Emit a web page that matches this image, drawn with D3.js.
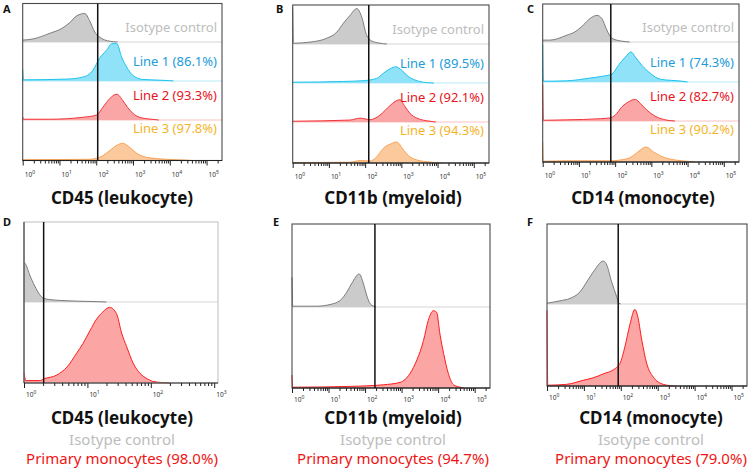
<!DOCTYPE html>
<html><head><meta charset="utf-8">
<script src="https://cdn.jsdelivr.net/npm/d3@7"></script>
<style>body{margin:0;background:#fff}</style>
</head><body><svg id="c" width="749" height="469"></svg>
<script>
// ---------------- DATA ----------------
const markers = ["CD45 (leukocyte)", "CD11b (myeloid)", "CD14 (monocyte)"];
const panelLetters = ["A", "B", "C", "D", "E", "F"];
const isoName = "Isotype control";
const lineNames = ["Line 1", "Line 2", "Line 3"];
const primaryName = "Primary monocytes";
const pctTop = [[86.1, 93.3, 97.8], [89.5, 92.1, 94.3], [74.3, 82.7, 90.2]];
const pctPrimary = [98.0, 94.7, 79.0];
const gateTop = [2.04, 2.1, 1.88];        // log10 gate position
const gateBottom = [0.31, 2.27, 1.93];
const axisMaxTop = 5.42, axisMaxD = 3.06, axisMaxEF = 5.42; // log10 upper limit
const tickPowersTop = [0, 1, 2, 3, 4, 5];
const tickPowersD = [0, 1, 2, 3];

// histograms: [log10 intensity, relative count]
const histA_iso = [[0,0.05],[0.28,0.08],[0.74,0.23],[1.07,0.36],[1.28,0.51],[1.47,0.69],[1.69,0.75],[1.82,0.56],[1.96,0.26],[2.09,0.13],[2.37,0.02],[2.58,0]];
const histA_l1 = [[0,0.3],[0.02,0.03],[1.2,0.05],[1.63,0.1],[1.91,0.28],[2.09,0.59],[2.28,0.8],[2.42,0.97],[2.56,0.97],[2.69,0.62],[2.83,0.36],[2.99,0.15],[3.26,0.04],[3.99,0.01],[4.1,0]];
const histA_l2 = [[0,0.08],[0.02,0.02],[0.74,0.02],[1.63,0.07],[2.01,0.13],[2.18,0.33],[2.37,0.56],[2.56,0.67],[2.72,0.51],[2.85,0.33],[2.99,0.18],[3.18,0.07],[3.5,0.02],[3.7,0]];
const histA_l3 = [[0,0.02],[1.82,0.03],[2.18,0.12],[2.37,0.25],[2.56,0.38],[2.72,0.43],[2.91,0.33],[3.1,0.18],[3.37,0.08],[3.91,0.03],[4.45,0.01],[4.6,0]];

const histB_iso = [[0,0.95],[0.02,0.02],[0.48,0.05],[0.94,0.15],[1.22,0.31],[1.4,0.54],[1.58,0.74],[1.77,0.92],[1.91,0.69],[2.04,0.23],[2.18,0.08],[2.41,0.02],[2.6,0]];
const histB_l1 = [[0,0.02],[1.4,0.04],[1.95,0.06],[2.32,0.12],[2.5,0.25],[2.69,0.37],[2.85,0.42],[3.01,0.33],[3.19,0.17],[3.43,0.06],[3.7,0.01],[3.9,0]];
const histB_l2 = [[0,0.02],[1.58,0.05],[1.86,0.1],[2.14,0.06],[2.41,0.18],[2.55,0.3],[2.69,0.43],[2.96,0.58],[3.1,0.4],[3.24,0.22],[3.43,0.1],[3.79,0.02],[3.95,0]];
const histB_l3 = [[0,0.01],[1.58,0.02],[1.86,0.06],[2.14,0.05],[2.32,0.15],[2.5,0.36],[2.73,0.48],[2.87,0.52],[3.06,0.32],[3.24,0.15],[3.61,0.04],[3.98,0.01],[4.1,0]];

const histC_iso = [[0,0.05],[0.2,0.05],[0.66,0.18],[0.89,0.27],[1.12,0.45],[1.31,0.63],[1.5,0.71],[1.63,0.63],[1.77,0.32],[1.91,0.1],[2.14,0.03],[2.28,0.01],[2.4,0]];
const histC_l1 = [[0,0.95],[0.02,0.02],[0.66,0.03],[1.31,0.1],[1.68,0.15],[1.91,0.2],[2.09,0.42],[2.28,0.63],[2.44,0.76],[2.56,0.63],[2.74,0.42],[2.97,0.22],[3.25,0.07],[3.85,0.02],[4.0,0]];
const histC_l2 = [[0,0.95],[0.02,0.02],[0.66,0.03],[1.59,0.06],[1.86,0.08],[2.0,0.15],[2.19,0.37],[2.37,0.5],[2.56,0.56],[2.7,0.45],[2.88,0.28],[3.06,0.15],[3.34,0.04],[3.52,0.01],[3.65,0]];
const histC_l3 = [[0,0.5],[0.02,0.02],[0.66,0.03],[1.86,0.03],[2.33,0.08],[2.56,0.2],[2.7,0.3],[2.85,0.37],[3.06,0.25],[3.25,0.15],[3.52,0.07],[3.85,0.03],[4.08,0.01],[4.2,0]];

const histD_iso = [[0,0.5],[0.03,0.47],[0.09,0.34],[0.17,0.2],[0.25,0.09],[0.3,0.05],[0.41,0.03],[0.57,0.02],[0.88,0.01],[1.12,0.005],[1.3,0]];
const histD_pri = [[0,0.13],[0.03,0.03],[0.25,0.03],[0.31,0.05],[0.52,0.1],[0.68,0.2],[0.83,0.37],[0.93,0.49],[1.04,0.65],[1.15,0.8],[1.24,0.88],[1.35,0.94],[1.46,0.86],[1.54,0.62],[1.62,0.45],[1.72,0.25],[1.83,0.12],[1.95,0.05],[2.03,0.02],[2.19,0.005],[2.3,0]];
const histE_iso = [[0,0.36],[0.02,0.01],[0.68,0.01],[1.04,0.03],[1.32,0.08],[1.5,0.18],[1.64,0.29],[1.84,0.4],[1.95,0.29],[2.06,0.12],[2.14,0.04],[2.3,0]];
const histE_pri = [[0,0.16],[0.02,0.01],[1.59,0.02],[2.5,0.04],[2.96,0.07],[3.23,0.18],[3.42,0.35],[3.6,0.59],[3.73,0.84],[3.87,0.96],[3.96,0.94],[4.05,0.67],[4.15,0.43],[4.28,0.18],[4.42,0.04],[4.6,0.01],[4.7,0]];
const histF_iso = [[0,0.01],[0.35,0.04],[0.62,0.07],[0.89,0.15],[1.08,0.28],[1.25,0.4],[1.53,0.54],[1.62,0.49],[1.75,0.28],[1.89,0.09],[1.95,0.01],[2.0,0]];
const histF_pri = [[0,0.93],[0.02,0.01],[0.53,0.02],[0.98,0.07],[1.25,0.1],[1.53,0.15],[1.8,0.2],[1.98,0.28],[2.11,0.48],[2.25,0.76],[2.38,0.94],[2.45,0.87],[2.57,0.56],[2.7,0.28],[2.88,0.11],[3.15,0.02],[3.33,0.005],[3.45,0]];

// ---------------- STYLE ----------------
const FONT = "'Noto Sans', 'Open Sans', sans-serif";
const sty = {
  iso:  {fill: "#cbcbcb", stroke: "#7d7d7d", base: "#d6d6d6", text: "#bdbdbd"},
  l1:   {fill: "#8fe2f7", stroke: "#1cc3ee", base: "#b9ecfa", text: "#229cd7"},
  l2:   {fill: "#fba6a6", stroke: "#f2353a", base: "#fbc3c3", text: "#e8141c"},
  l3:   {fill: "#fcc99c", stroke: "#f7a256", base: "#fde0c8", text: "#f4b42a"},
  pri:  {fill: "#fca5a5", stroke: "#ff1c1c", base: "#bbbbbb", text: "#f01414"}
};

const svg = d3.select("#c");

function drawPanel(p) {
  const g = svg.append("g");
  const x = d3.scaleLog().domain([1, Math.pow(10, p.dmax)]).range([p.x0, p.x1]);
  const bounds = [p.y0, ...p.seps, p.y1];
  p.rows.forEach((r, i) => {
    const top = bounds[i], bot = bounds[i + 1];
    const y = d3.scaleLinear().domain([0, 1]).range([bot, top + 0.5]);
    const area = d3.area().x(d => x(Math.pow(10, d[0]))).y0(bot).y1(d => y(d[1])).curve(d3.curveMonotoneX);
    const line = d3.line().x(d => x(Math.pow(10, d[0]))).y(d => y(d[1])).curve(d3.curveMonotoneX);
    if (i < p.rows.length - 1)
      g.append("line").attr("x1", p.x0).attr("x2", p.x1).attr("y1", bot).attr("y2", bot)
        .attr("stroke", r.s.base).attr("stroke-width", 1.2);
    g.append("path").attr("d", area(r.data)).attr("fill", r.s.fill);
    g.append("path").attr("d", line(r.data)).attr("fill", "none").attr("stroke", r.s.stroke).attr("stroke-width", 1);
    if (r.label) {
      const ly = r.labelTop ? top + r.off : bot - r.off;
      g.append("text").attr("x", p.x1 - 5).attr("y", ly).attr("text-anchor", "end")
        .attr("font-family", FONT).attr("font-size", 13).attr("fill", r.s.text).text(r.label);
    }
  });
  // frame
  g.append("rect").attr("x", p.x0).attr("y", p.y0).attr("width", p.x1 - p.x0).attr("height", p.y1 - p.y0)
    .attr("fill", "none").attr("stroke", p.frame || "#4a4a4a").attr("stroke-width", 1.1);
  if (p.frameLeft) g.append("line").attr("x1", p.x0).attr("x2", p.x0).attr("y1", p.y0).attr("y2", p.y1)
    .attr("stroke", "#333").attr("stroke-width", 1.1);
  g.append("line").attr("x1", p.x0).attr("x2", p.x1).attr("y1", p.y1).attr("y2", p.y1)
    .attr("stroke", "#222").attr("stroke-width", 1.2);
  // gate
  const gx = x(Math.pow(10, p.gate));
  g.append("line").attr("x1", gx).attr("x2", gx).attr("y1", p.y0).attr("y2", p.y1)
    .attr("stroke", "#111").attr("stroke-width", 1.5);
  // axis
  const ticks = x.ticks();
  const ax = g.append("g").attr("transform", `translate(0,${p.y1})`)
    .call(d3.axisBottom(x).tickValues(ticks).tickFormat("").tickSizeOuter(0));
  ax.select(".domain").remove();
  ax.selectAll(".tick line").attr("stroke", "#222")
    .attr("y2", d => Math.abs(Math.log10(d) - Math.round(Math.log10(d))) < 1e-9 ? 5 : 3);
  p.powers.forEach(k => {
    const t = g.append("text").attr("x", x(Math.pow(10, k)) + 2).attr("y", p.y1 + p.labOff)
      .attr("font-family", FONT).attr("font-size", 6.5).attr("fill", "#333");
    t.append("tspan").text("10");
    t.append("tspan").attr("font-size", 5).attr("dy", -3).text(k);
  });
  // letter
  svg.append("text").attr("x", p.letterX).attr("y", p.letterY).attr("font-family", FONT)
    .attr("font-weight", "bold").attr("font-size", 11).attr("fill", "#111").text(p.letter);
  // titles
  const cx = p.titleX;
  svg.append("text").attr("x", cx).attr("y", p.titleY).attr("text-anchor", "middle")
    .attr("font-family", FONT).attr("font-weight", "bold").attr("font-size", 17).attr("fill", "#111").text(p.title);
  if (p.sub) {
    svg.append("text").attr("x", cx).attr("y", p.titleY + 21).attr("text-anchor", "middle")
      .attr("font-family", FONT).attr("font-size", 15).attr("fill", sty.iso.text).text(isoName);
    svg.append("text").attr("x", cx).attr("y", p.titleY + 40).attr("text-anchor", "middle")
      .attr("font-family", FONT).attr("font-size", 15).attr("fill", sty.pri.text).text(p.sub);
  }
}

const topHists = [[histA_iso, histA_l1, histA_l2, histA_l3],
                  [histB_iso, histB_l1, histB_l2, histB_l3],
                  [histC_iso, histC_l1, histC_l2, histC_l3]];
const topLayout = [
  {x0: 22.7, x1: 222, y0: 3.5, y1: 160.5, seps: [42, 81, 120], letterX: 3, letterY: 13, titleX: 122},
  {x0: 292.7, x1: 489, y0: 5, y1: 163, seps: [44, 83, 122], letterX: 276, letterY: 13, titleX: 393},
  {x0: 542.7, x1: 739, y0: 4, y1: 162, seps: [42, 82, 121], letterX: 527, letterY: 13, titleX: 643}
];
const styKeys = ["iso", "l1", "l2", "l3"];
const labelOffs = [[10, false], [15, false], [20, false], [13, true]];

topLayout.forEach((L, pi) => {
  drawPanel(Object.assign({}, L, {
    dmax: axisMaxTop, gate: gateTop[pi], powers: tickPowersTop, labOff: 16,
    letter: panelLetters[pi], title: markers[pi], titleY: 204,
    rows: topHists[pi].map((h, ri) => ({
      data: h, s: sty[styKeys[ri]],
      label: ri === 0 ? isoName : `${lineNames[ri - 1]} (${pctTop[pi][ri - 1].toFixed(1)}%)`,
      off: labelOffs[ri][0], labelTop: labelOffs[ri][1]
    }))
  }));
});

const botHists = [[histD_iso, histD_pri], [histE_iso, histE_pri], [histF_iso, histF_pri]];
const botLayout = [
  {x0: 24, x1: 218, y0: 222, y1: 383, seps: [302], letterX: 3, letterY: 226, titleX: 122, dmax: axisMaxD, powers: tickPowersD, frame: "#c4c4c4", frameLeft: true},
  {x0: 292, x1: 490, y0: 224, y1: 388, seps: [307], letterX: 273, letterY: 226, titleX: 393, dmax: axisMaxEF, powers: tickPowersTop, frame: "#4a4a4a"},
  {x0: 547, x1: 747, y0: 224, y1: 386, seps: [304], letterX: 527, letterY: 226, titleX: 651, dmax: axisMaxEF, powers: tickPowersTop, frame: "#4a4a4a"}
];
botLayout.forEach((L, pi) => {
  drawPanel(Object.assign({}, L, {
    gate: gateBottom[pi], labOff: 14, letter: panelLetters[pi + 3], title: markers[pi], titleY: 424,
    sub: `${primaryName} (${pctPrimary[pi].toFixed(1)}%)`,
    rows: botHists[pi].map((h, ri) => ({data: h, s: ri === 0 ? sty.iso : sty.pri}))
  }));
});
</script></body></html>
